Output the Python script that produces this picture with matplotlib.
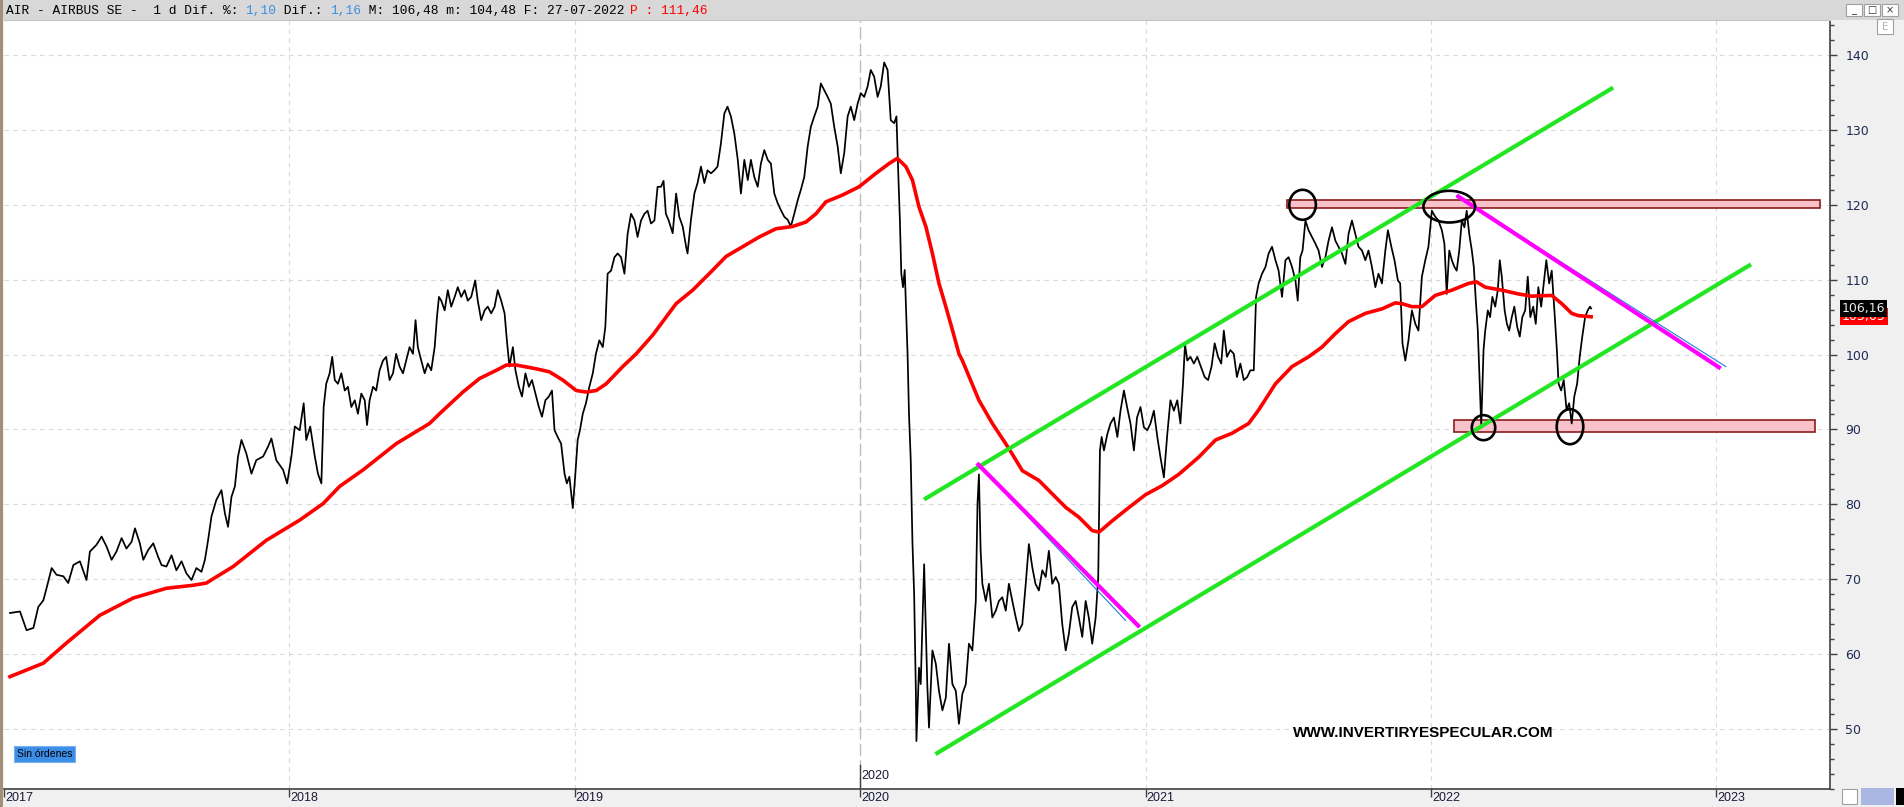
import matplotlib
matplotlib.use('Agg')
import matplotlib.pyplot as plt
from matplotlib.patches import Rectangle, Ellipse
from matplotlib.ticker import MultipleLocator
from matplotlib.transforms import blended_transform_factory

# --- daily closes (decimal year, EUR) ---
price_t = [
    2017.021, 2017.056, 2017.079, 2017.103, 2017.120, 2017.138, 2017.149, 2017.167, 2017.184, 2017.208,
    2017.225, 2017.243, 2017.266, 2017.289, 2017.301, 2017.324, 2017.342, 2017.359, 2017.377, 2017.394,
    2017.412, 2017.429, 2017.447, 2017.459, 2017.476, 2017.488, 2017.505, 2017.523, 2017.540, 2017.552,
    2017.569, 2017.587, 2017.604, 2017.622, 2017.639, 2017.657, 2017.674, 2017.692, 2017.704, 2017.715,
    2017.727, 2017.744, 2017.762, 2017.774, 2017.785, 2017.797, 2017.809, 2017.820, 2017.832, 2017.849,
    2017.867, 2017.884, 2017.908, 2017.925, 2017.937, 2017.954, 2017.978, 2017.992, 2018.007, 2018.019,
    2018.036, 2018.050, 2018.059, 2018.073, 2018.089, 2018.100, 2018.112, 2018.120, 2018.129, 2018.141,
    2018.150, 2018.159, 2018.170,
    2018.182, 2018.194, 2018.205, 2018.217, 2018.229, 2018.240, 2018.252, 2018.264, 2018.272, 2018.281,
    2018.293, 2018.304, 2018.316, 2018.328, 2018.339, 2018.351, 2018.363, 2018.374, 2018.386, 2018.398,
    2018.409, 2018.421, 2018.433, 2018.442, 2018.450, 2018.462, 2018.474, 2018.485, 2018.497, 2018.509,
    2018.517, 2018.524, 2018.532, 2018.544, 2018.555, 2018.567, 2018.579, 2018.590, 2018.602, 2018.614,
    2018.625, 2018.637, 2018.651, 2018.660, 2018.672, 2018.684, 2018.695, 2018.707, 2018.719, 2018.730,
    2018.742, 2018.754, 2018.762, 2018.771, 2018.783, 2018.792, 2018.804, 2018.815, 2018.827, 2018.839,
    2018.850, 2018.862, 2018.874, 2018.885, 2018.897, 2018.909, 2018.920, 2018.929, 2018.940, 2018.952,
    2018.964, 2018.972, 2018.981, 2018.993, 2019.002, 2019.010, 2019.018, 2019.028, 2019.039, 2019.051,
    2019.063, 2019.074, 2019.086, 2019.098, 2019.107, 2019.115, 2019.127, 2019.139, 2019.150, 2019.162,
    2019.174, 2019.185, 2019.197, 2019.209, 2019.220, 2019.232, 2019.244, 2019.255, 2019.267, 2019.279,
    2019.290, 2019.302, 2019.311, 2019.319, 2019.329,
    2019.343, 2019.355, 2019.366, 2019.378, 2019.390, 2019.395, 2019.407, 2019.419, 2019.430, 2019.442,
    2019.454, 2019.465, 2019.477, 2019.489, 2019.500, 2019.512, 2019.524, 2019.535, 2019.547, 2019.559,
    2019.571, 2019.582, 2019.594, 2019.606, 2019.617, 2019.629, 2019.641, 2019.652, 2019.664, 2019.676,
    2019.687, 2019.699, 2019.711, 2019.722, 2019.734, 2019.746, 2019.757, 2019.769, 2019.781, 2019.792,
    2019.804, 2019.816, 2019.827, 2019.839, 2019.851, 2019.862, 2019.874, 2019.886, 2019.897, 2019.909,
    2019.921, 2019.932, 2019.944, 2019.956, 2019.967, 2019.979, 2019.991, 2020.002, 2020.014, 2020.026,
    2020.037, 2020.049, 2020.061, 2020.072, 2020.084, 2020.096, 2020.107, 2020.119, 2020.127, 2020.133,
    2020.139, 2020.144, 2020.150, 2020.156, 2020.162, 2020.166, 2020.171, 2020.177, 2020.183, 2020.189,
    2020.195, 2020.197, 2020.206,
    2020.212, 2020.224, 2020.235, 2020.241, 2020.253, 2020.265, 2020.276, 2020.288, 2020.300, 2020.311,
    2020.323, 2020.335, 2020.346, 2020.358, 2020.370, 2020.381, 2020.393, 2020.405, 2020.411, 2020.416,
    2020.422, 2020.428, 2020.440, 2020.451, 2020.463, 2020.475, 2020.486, 2020.498, 2020.510, 2020.521,
    2020.533, 2020.545, 2020.556, 2020.568, 2020.580, 2020.591, 2020.603, 2020.614, 2020.626, 2020.638,
    2020.650, 2020.661, 2020.673, 2020.685, 2020.696, 2020.708, 2020.720, 2020.731, 2020.743, 2020.755,
    2020.766, 2020.778, 2020.790, 2020.801, 2020.813, 2020.825, 2020.834, 2020.840, 2020.846, 2020.854,
    2020.866, 2020.877, 2020.889, 2020.901, 2020.912, 2020.924, 2020.935, 2020.947, 2020.959, 2020.970,
    2020.982, 2020.994, 2021.006, 2021.017, 2021.029, 2021.041, 2021.052, 2021.064, 2021.076, 2021.087,
    2021.099, 2021.111, 2021.122, 2021.131, 2021.138, 2021.146, 2021.157, 2021.169, 2021.181,
    2021.207, 2021.219, 2021.231, 2021.242, 2021.254, 2021.265, 2021.274, 2021.285, 2021.297, 2021.309,
    2021.320, 2021.332, 2021.344, 2021.356, 2021.367, 2021.379, 2021.387, 2021.396, 2021.408, 2021.420,
    2021.431, 2021.443, 2021.455, 2021.466, 2021.478, 2021.490, 2021.501, 2021.513, 2021.525, 2021.533,
    2021.542, 2021.550, 2021.560, 2021.571, 2021.583, 2021.595, 2021.606, 2021.618, 2021.630, 2021.641,
    2021.653, 2021.665, 2021.676, 2021.688, 2021.700, 2021.711, 2021.723, 2021.735, 2021.746, 2021.758,
    2021.770, 2021.781, 2021.793, 2021.805, 2021.816, 2021.828, 2021.840, 2021.849, 2021.861, 2021.872,
    2021.884, 2021.892, 2021.900, 2021.910, 2021.921, 2021.933, 2021.945, 2021.956,
    2021.968, 2021.980, 2021.991, 2022.003, 2022.015, 2022.026, 2022.038, 2022.047, 2022.055, 2022.064,
    2022.073, 2022.082, 2022.090, 2022.099, 2022.108, 2022.117, 2022.125, 2022.134, 2022.143, 2022.150,
    2022.157, 2022.164, 2022.170, 2022.176, 2022.184, 2022.190, 2022.199, 2022.207, 2022.215, 2022.225,
    2022.234, 2022.241, 2022.248, 2022.258, 2022.266, 2022.274, 2022.283, 2022.292, 2022.302, 2022.311,
    2022.320, 2022.330, 2022.339, 2022.348, 2022.358, 2022.367, 2022.376, 2022.386, 2022.395, 2022.404,
    2022.414, 2022.423, 2022.433, 2022.441, 2022.447, 2022.456, 2022.465, 2022.475, 2022.484, 2022.493,
    2022.502, 2022.512, 2022.521, 2022.530, 2022.540, 2022.549, 2022.557, 2022.561,
]
price_close = [
    65.5, 65.7, 63.2, 63.5, 66.3, 67.2, 68.8, 71.5, 70.6, 70.4,
    69.5, 71.9, 72.4, 69.9, 73.7, 74.6, 75.7, 74.4, 72.6, 73.7,
    75.5, 74.1, 75.0, 76.8, 74.8, 72.6, 73.9, 74.8, 73.0, 71.9,
    71.7, 73.2, 71.2, 72.4, 70.8, 69.9, 71.5, 71.0, 72.6, 75.2,
    78.4, 80.6, 81.9, 78.8, 77.0, 81.0, 82.4, 86.4, 88.6, 86.8,
    84.1, 85.9, 86.4, 87.7, 88.8, 85.9, 84.6, 82.8, 86.4, 90.4,
    89.9, 93.5, 88.6, 90.4, 86.4, 84.1, 82.8, 93.0, 96.1, 97.5,
    99.7, 96.6, 96.1,
    97.5, 95.2, 95.7, 93.0, 93.9, 92.1, 94.8, 93.9, 90.6, 93.9,
    95.7, 95.2, 97.9, 99.2, 99.7, 96.6, 97.5, 100.1, 98.4, 97.5,
    99.2, 101.0, 100.1, 104.6, 101.0, 99.2, 97.5, 98.8, 97.9, 101.0,
    105.0, 107.7, 107.2, 105.9, 108.6, 106.4, 107.7, 109.0, 107.7, 108.6,
    107.2, 107.7, 109.9, 107.2, 104.6, 105.9, 106.4, 105.5, 106.4, 108.6,
    107.2, 105.5, 101.9, 98.4, 101.0, 97.9, 95.7, 94.4, 97.5, 95.7,
    96.6, 94.8, 93.0, 91.7, 93.9, 94.4, 95.2, 89.9, 89.0, 88.1,
    84.1, 82.8, 83.7, 79.5, 84.1, 88.6, 89.9, 92.1, 93.5, 95.7,
    97.5, 100.1, 101.9, 101.0, 103.7, 110.8, 111.2, 113.0, 113.5, 113.0,
    110.8, 116.1, 118.8, 117.9, 115.7, 117.9, 118.8, 119.2, 117.5, 117.9,
    122.4, 122.4, 123.2, 118.8, 117.9,
    116.2, 121.5, 118.4, 117.1, 114.4, 113.5, 118.0, 121.5, 122.9, 125.1,
    122.9, 124.6, 124.2, 124.6, 125.1, 128.2, 132.2, 133.1, 131.8, 129.5,
    126.0, 121.5, 126.0, 123.3, 126.0, 123.7, 122.4, 125.5, 127.3, 126.0,
    125.5, 121.5, 120.2, 119.3, 118.4, 118.0, 117.1, 118.8, 120.6, 122.0,
    123.7, 127.8, 130.4, 131.8, 133.1, 136.2, 135.3, 134.4, 133.5, 130.4,
    127.8, 124.2, 126.9, 131.8, 133.1, 131.3, 133.5, 134.9, 134.4, 135.8,
    138.0, 137.1, 134.4, 135.8, 139.0, 138.0, 131.3, 130.9, 131.8, 124.6,
    118.0, 110.8, 109.0, 111.3, 104.6, 100.0, 92.0, 86.0, 75.0, 68.0,
    55.0, 48.4, 58.2,
    56.0, 72.0, 56.0, 50.2, 60.5, 58.7, 55.1, 52.5, 54.2, 61.4,
    56.0, 55.1, 50.7, 54.7, 56.0, 61.4, 60.5, 67.1, 80.1, 84.0,
    73.8, 69.4, 67.1, 69.4, 64.9, 65.8, 67.1, 67.6, 65.8, 69.4,
    67.1, 64.9, 63.1, 64.0, 69.4, 74.7, 71.6, 69.4, 68.5, 71.2,
    70.3, 73.8, 69.4, 70.3, 69.4, 64.0, 60.5, 62.7, 66.3, 67.1,
    64.9, 62.3, 67.1, 64.9, 61.4, 64.9, 70.3, 87.2, 89.0, 87.2,
    89.4, 90.8, 91.6, 89.0, 92.5, 95.2, 93.0, 90.8, 87.2, 91.6,
    93.0, 90.3, 89.9, 90.8, 92.5, 89.0, 86.3, 83.6, 89.4, 93.9,
    92.5, 93.9, 90.8, 96.1, 101.4, 99.2, 99.7, 98.8, 99.7,
    97.0, 96.6, 98.4, 101.5, 99.7, 98.8, 103.2, 99.7, 100.6, 100.1,
    97.0, 98.8, 96.6, 97.0, 97.9, 97.9, 107.7, 109.5, 110.8, 111.7,
    113.5, 114.4, 112.6, 111.2, 107.7, 112.6, 113.0, 111.7, 109.9, 107.2,
    113.0, 113.9, 117.9, 116.6, 115.7, 114.8, 113.9, 111.7, 113.0, 115.2,
    117.0, 115.2, 114.4, 113.5, 112.1, 116.1, 117.9, 116.1, 114.4, 113.9,
    112.6, 113.9, 111.7, 109.0, 110.8, 109.5, 113.9, 116.6, 114.4, 112.6,
    109.9, 109.5, 101.5, 99.2, 101.9, 105.9, 104.1, 103.2,
    110.4, 112.6, 114.4, 119.2, 118.4, 117.9, 116.6, 114.8, 108.1, 113.9,
    112.6, 111.7, 111.2, 113.9, 117.9, 117.0, 119.2, 116.1, 113.9, 111.7,
    107.2, 103.2, 97.0, 90.5, 100.6, 103.2, 105.9, 105.0, 107.7, 106.4,
    108.6, 112.6, 110.4, 105.9, 104.1, 103.2, 105.0, 106.4, 103.7, 102.4,
    105.0, 105.9, 110.4, 105.0, 106.4, 104.1, 109.0, 106.4, 109.5, 112.6,
    109.5, 111.2, 105.5, 100.6, 96.1, 95.2, 96.6, 92.6, 93.5, 90.8,
    94.4, 96.1, 99.7, 102.4, 105.0, 105.9, 106.4, 106.16,
]

# --- moving average (red) ---
ma_t = [
    2017.021, 2017.138, 2017.219, 2017.336, 2017.453, 2017.569, 2017.663, 2017.709, 2017.803, 2017.919,
    2018.036, 2018.118, 2018.176, 2018.258, 2018.374, 2018.491, 2018.526, 2018.608, 2018.666, 2018.725,
    2018.760, 2018.795, 2018.865, 2018.911, 2018.958, 2019.005, 2019.040, 2019.075, 2019.110, 2019.168,
    2019.215, 2019.273, 2019.355, 2019.413, 2019.471, 2019.530, 2019.588, 2019.646, 2019.705, 2019.763,
    2019.810, 2019.845, 2019.880, 2019.938, 2019.996, 2020.055, 2020.101, 2020.130, 2020.160, 2020.183,
    2020.206, 2020.230, 2020.253, 2020.276, 2020.300, 2020.323, 2020.346, 2020.358, 2020.416, 2020.463,
    2020.510, 2020.533, 2020.568, 2020.626, 2020.673, 2020.720, 2020.766, 2020.813, 2020.837, 2020.883,
    2020.942, 2021.000, 2021.058, 2021.116, 2021.186, 2021.245, 2021.303, 2021.361, 2021.396, 2021.455,
    2021.513, 2021.571, 2021.618, 2021.665, 2021.711, 2021.770, 2021.828, 2021.875, 2021.898, 2021.933,
    2021.968, 2022.015, 2022.073, 2022.131, 2022.160, 2022.190, 2022.248, 2022.306, 2022.353, 2022.423,
    2022.458, 2022.493, 2022.516, 2022.561,
]
ma_val = [
    57.0, 58.8, 61.5, 65.2, 67.5, 68.8, 69.2, 69.5, 71.7, 75.2,
    77.9, 80.1, 82.4, 84.6, 88.1, 90.8, 92.1, 95.0, 96.8, 97.9,
    98.6, 98.6, 98.1, 97.7, 96.6, 95.2, 95.0, 95.2, 96.1, 98.4,
    100.1, 102.6, 106.8, 108.6, 110.8, 113.1, 114.4, 115.7, 116.8, 117.1,
    117.7, 118.8, 120.4, 121.3, 122.4, 124.2, 125.5, 126.2, 125.1, 123.3,
    119.7, 117.1, 113.5, 109.5, 106.4, 103.3, 100.1, 99.2, 93.9, 90.8,
    88.1, 86.7, 84.5, 83.2, 81.4, 79.6, 78.3, 76.5, 76.3, 77.8,
    79.6, 81.3, 82.5, 84.0, 86.3, 88.6, 89.5, 90.8, 92.6, 96.1,
    98.4, 99.7, 101.0, 102.8, 104.4, 105.5, 106.1, 106.9, 106.8, 106.4,
    106.4, 107.9, 108.6, 109.5, 109.7, 109.0, 108.6, 108.1, 107.8, 107.9,
    106.8, 105.5, 105.2, 105.05,
]

# --- drawn annotations (decimal year, price) ---
channel_up_x, channel_up_y = [2020.230, 2022.632], [80.8, 135.5]
channel_lo_x, channel_lo_y = [2020.270, 2023.115], [46.8, 111.9]
down_2020_x, down_2020_y = [2020.414, 2020.974], [85.3, 63.8]
reg_2020_x, reg_2020_y = [2020.416, 2020.930], [85.3, 64.5]
down_2022_x, down_2022_y = [2022.096, 2023.009], [121.1, 98.3]
reg_2022_x, reg_2022_y = [2022.089, 2023.033], [121.2, 98.4]
# resistance / support zones: (x0, x1, low, high)
zone_top = (2021.495, 2023.362, 119.6, 120.6)
zone_bottom = (2022.080, 2023.345, 89.6, 91.3)
# circles: (x, y, width in years, height in price)
circles = [
    (2021.550, 120.0, 0.093, 4.0),
    (2022.064, 119.75, 0.181, 4.23),
    (2022.184, 90.24, 0.082, 3.34),
    (2022.487, 90.37, 0.093, 4.67),
]

year_ticks = [2017, 2018, 2019, 2020, 2021, 2022, 2023]
last_close, last_ma = 106.16, 105.05

header_parts = [
    ("AIR - AIRBUS SE -  1 d Dif. %: ", "black"),
    ("1,10", "#3d8fe0"),
    (" Dif.: ", "black"),
    ("1,16", "#3d8fe0"),
    (" M: 106,48 m: 104,48 F: 27-07-2022 ", "black"),
    ("P : 111,46", "#ff0000"),
]

W, H = 1904, 807
fig = plt.figure(figsize=(W / 100, H / 100), dpi=100, facecolor='#f0f0f0')


def fx(px):
    return px / W


def fy(py):
    return 1 - py / H


ax = fig.add_axes([fx(4), fy(789), fx(1830) - fx(4), fy(20) - fy(789)])
ax.set_facecolor('white')
ax.set_xlim(2017.007, 2023.398)
ax.set_ylim(42.0, 144.67)

# grid
for v in range(50, 150, 10):
    ax.axhline(v, color='#d9d9d9', lw=0.8, ls=(0, (4, 4)), zorder=0)
for yr in year_ticks[1:]:
    if yr == 2020:
        ax.axvline(yr, color='#bdbdbd', lw=1.0, ls=(0, (9, 3)), zorder=0)
    else:
        ax.axvline(yr, color='#d9d9d9', lw=0.8, ls=(0, (4, 4)), zorder=0)

ax.plot(price_t, price_close, color='black', lw=1.25, zorder=2)
ax.plot(ma_t, ma_val, color='#ff0000', lw=2.6, zorder=3)

for x0, x1, lo, hi in [zone_top, zone_bottom]:
    ax.add_patch(Rectangle((x0, lo), x1 - x0, hi - lo, facecolor='#f9c2ca',
                           edgecolor='#8b1c1c', lw=1.2, zorder=1))

green = '#22e622'
ax.plot(channel_up_x, channel_up_y, color=green, lw=3.0, zorder=4)
ax.plot(channel_lo_x, channel_lo_y, color=green, lw=3.0, zorder=4)
ax.plot(reg_2020_x, reg_2020_y, color='#1e7fd8', lw=0.8, zorder=4)
ax.plot(reg_2022_x, reg_2022_y, color='#1e7fd8', lw=0.8, zorder=4)
ax.plot(down_2020_x, down_2020_y, color='#ff00ff', lw=3.0, zorder=5)
ax.plot(down_2022_x, down_2022_y, color='#ff00ff', lw=3.0, zorder=5)

for cx, cy, w, h in circles:
    ax.add_patch(Ellipse((cx, cy), w, h, fill=False, edgecolor='black', lw=1.9, zorder=6))

ax.text(2021.974, 49.5, 'WWW.INVERTIRYESPECULAR.COM', ha='center', va='center',
        fontsize=11, fontweight='bold', family='Liberation Sans', color='black', zorder=7)

# axes styling
ax.spines['left'].set_visible(False)
ax.spines['top'].set_color('#c4c4c4')
ax.spines['right'].set_color('#404040')
ax.spines['bottom'].set_color('#404040')
ax.spines['right'].set_linewidth(1.2)
ax.spines['bottom'].set_linewidth(1.2)

ax.yaxis.tick_right()
ax.set_yticks(range(50, 150, 10))
ax.yaxis.set_minor_locator(MultipleLocator(2))
ax.tick_params(axis='y', which='major', length=5, width=1, color='#404040', pad=6,
               labelsize=9, labelcolor='#1e2a55')
ax.tick_params(axis='y', which='minor', length=3, width=1, color='#404040')
ax.set_xticks(year_ticks)
ax.set_xticklabels([])
ax.tick_params(axis='x', which='major', length=6, width=1, color='#404040', direction='out')

bt = blended_transform_factory(ax.transData, ax.transAxes)
narrow = ['Liberation Sans Narrow', 'Liberation Sans']
for yr in year_ticks:
    ax.text(yr + 0.003, -0.012, str(yr), transform=bt, ha='left', va='center',
            fontsize=9, family=narrow, color='#1a1a3a', clip_on=False)
ax.text(2020.005, 0.017, '2020', transform=bt, ha='left', va='center',
        fontsize=9, family=narrow, color='#1a1a3a')
ax.plot([2020, 2020], [0, 0.031], transform=bt, color='#404040', lw=1.0)

# last value boxes on the price scale (the MA box sits partly under the close box)
bv = blended_transform_factory(ax.transAxes, ax.transData)
ax.text(1.0066, last_ma, f'{last_ma:.2f}'.replace('.', ','), transform=bv, ha='left', va='center',
        fontsize=9, color='white', clip_on=False, zorder=8,
        bbox=dict(boxstyle='square,pad=0.15', fc='#ff0000', ec='none'))
ax.text(1.0066, last_close, f'{last_close:.2f}'.replace('.', ','), transform=bv, ha='left', va='center',
        fontsize=9, color='#e8e8e8', clip_on=False, zorder=9,
        bbox=dict(boxstyle='square,pad=0.15', fc='black', ec='none'))

# window chrome
fig.patches.append(Rectangle((0, fy(20)), 1, 20 / H, transform=fig.transFigure,
                             facecolor='#d8d8d8', edgecolor='none', zorder=0))
fig.patches.append(Rectangle((0, 0), fx(3), 1, transform=fig.transFigure,
                             facecolor='#a39077', edgecolor='none', zorder=1))
hdr_size = 9.25
cw = hdr_size * 0.6 * 100 / 72
n = 0
for s, c in header_parts:
    fig.text(fx(6 + n * cw), fy(11), s, color=c, fontsize=hdr_size, family='Liberation Mono',
             ha='left', va='center')
    n += len(s)

for bx, sym in [(1846, '_'), (1864, '□'), (1882, '×')]:
    fig.patches.append(Rectangle((fx(bx), fy(16)), fx(16), 12 / H, transform=fig.transFigure,
                                 facecolor='white', edgecolor='#a0a0a0', lw=0.8, zorder=2))
    fig.text(fx(bx + 8), fy(10), sym, ha='center', va='center', fontsize=7, color='#303030')
fig.patches.append(Rectangle((fx(1877), fy(34)), fx(16), 15 / H, transform=fig.transFigure,
                             facecolor='white', edgecolor='#a0a0a0', lw=0.8, zorder=2))
fig.text(fx(1885), fy(26.5), 'E', ha='center', va='center', fontsize=7, color='#b0b0b0')

fig.patches.append(Rectangle((fx(1842), fy(804)), fx(15), 15 / H, transform=fig.transFigure,
                             facecolor='white', edgecolor='#a0a0a0', lw=0.8, zorder=2))
fig.patches.append(Rectangle((fx(1861), fy(805)), fx(33), 17 / H, transform=fig.transFigure,
                             facecolor='#a9b7e2', edgecolor='none', zorder=2))
fig.patches.append(Rectangle((fx(1896), fy(805)), fx(8), 17 / H, transform=fig.transFigure,
                             facecolor='black', edgecolor='none', zorder=2))

fig.text(fx(17), fy(754), 'Sin órdenes', ha='left', va='center', fontsize=7.5,
         family='Liberation Sans', color='black',
         bbox=dict(boxstyle='square,pad=0.25', fc='#3d8ee6', ec='#7ab2f0', lw=0.8))

fig.savefig('out.png', dpi=100, facecolor=fig.get_facecolor())
